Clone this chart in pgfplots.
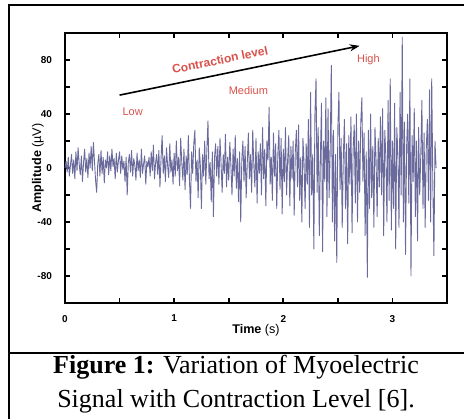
\documentclass[border=0pt]{standalone}
\usepackage{fontspec}
\setmainfont{Liberation Serif}
\setsansfont{Liberation Sans}
\usepackage{pgfplots}
\pgfplotsset{compat=1.18}
\usetikzlibrary{arrows.meta}
\definecolor{emgline}{HTML}{6A6A9C}
\definecolor{annot}{HTML}{D9514B}

\begin{document}
\begin{tikzpicture}
\begin{scope}[x=0.5pt,y=-0.5pt]
\useasboundingbox (0,0) rectangle (464,419);
\draw[line width=1pt] (9,419) -- (9,5) -- (464,5);
\draw[line width=1pt] (9,353) -- (464,353);
\node[anchor=base,font=\fontsize{13}{17}\selectfont] at (236,373) {\textbf{Figure 1:} Variation of Myoelectric};
\node[anchor=base,font=\fontsize{13}{17}\selectfont] at (236,407) {Signal with Contraction Level [6].};
\end{scope}
\begin{axis}[
  at={(32.5pt,-151.5pt)}, anchor=south west,
  scale only axis, width=191pt, height=135pt,
  xmin=0, xmax=3.5, ymin=-100, ymax=100,
  axis line style={line width=0.9pt},
  tick align=inside, xtick pos=both, ytick pos=both,
  major tick length=2.5pt,
  every tick/.style={line width=0.8pt,black},
  xtick={0,0.5,...,3.5}, xticklabels={0,,1,,2,,3,},
  ytick={-80,-60,...,80}, yticklabels={-80,,-40,,0,,40,,80},
  ticklabel style={font=\sffamily\bfseries\fontsize{5}{6}\selectfont},
  xticklabel style={yshift=-2.5pt},
  yticklabel style={xshift=-3pt},
  xlabel={\textbf{Time} (s)},
  ylabel={\textbf{Amplitude} (µV)},
  label style={font=\sffamily\fontsize{6.3}{7}\selectfont},
  xlabel style={at={(axis description cs:0.5,-0.1)},anchor=center},
  ylabel style={at={(axis description cs:-0.071,0.5)},anchor=center},
  clip=false,
]
\addplot[color=emgline, line width=0.45pt, line join=round] coordinates {
(0.00,0) (0.01,5) (0.02,-3) (0.03,8) (0.04,-6) (0.05,2) (0.06,10) (0.07,-4) (0.08,6) (0.09,-8)
(0.10,12) (0.11,-2) (0.12,15) (0.13,3) (0.14,-5) (0.15,9) (0.16,-10) (0.17,4) (0.18,14) (0.19,-3)
(0.20,7) (0.21,-7) (0.22,11) (0.23,0) (0.24,16) (0.25,-2) (0.26,19) (0.27,5) (0.28,-9) (0.29,-18)
(0.30,3) (0.31,10) (0.32,-6) (0.33,13) (0.34,-4) (0.35,8) (0.36,-11) (0.37,6) (0.38,0) (0.39,12)
(0.40,-5) (0.41,9) (0.42,-2) (0.43,14) (0.44,1) (0.45,7) (0.46,-8) (0.47,11) (0.48,-3) (0.49,6)
(0.50,12) (0.51,-4) (0.52,9) (0.53,-1) (0.54,5) (0.55,-10) (0.56,8) (0.57,-20) (0.58,4) (0.59,10)
(0.60,-3) (0.61,13) (0.62,-6) (0.63,7) (0.64,2) (0.65,-9) (0.66,11) (0.67,-2) (0.68,6) (0.69,-7)
(0.70,14) (0.71,-4) (0.72,3) (0.73,9) (0.74,-12) (0.75,5) (0.76,1) (0.77,8) (0.78,-6) (0.79,12)
(0.80,-2) (0.81,17) (0.82,-8) (0.83,4) (0.84,10) (0.85,-5) (0.86,13) (0.87,-14) (0.88,7) (0.89,24)
(0.90,-4) (0.91,9) (0.92,-10) (0.93,15) (0.94,2) (0.95,-7) (0.96,18) (0.97,-3) (0.98,6) (0.99,-12)
(1.00,11) (1.01,-6) (1.02,20) (1.03,-2) (1.04,8) (1.05,-13) (1.06,22) (1.07,4) (1.08,-9) (1.09,14)
(1.10,-16) (1.11,9) (1.12,-5) (1.13,24) (1.14,-8) (1.15,-30) (1.16,12) (1.17,-4) (1.18,18) (1.19,28)
(1.20,-10) (1.21,6) (1.22,-22) (1.23,15) (1.24,2) (1.25,-30) (1.26,10) (1.27,-6) (1.28,20) (1.29,-12)
(1.30,14) (1.31,35) (1.32,-8) (1.33,4) (1.34,-25) (1.35,12) (1.36,-36) (1.37,8) (1.38,18) (1.39,-6)
(1.40,16) (1.41,-12) (1.42,22) (1.43,3) (1.44,-18) (1.45,10) (1.46,-4) (1.47,25) (1.48,-14) (1.49,8)
(1.50,-9) (1.51,19) (1.52,2) (1.53,-20) (1.54,14) (1.55,-6) (1.56,24) (1.57,-15) (1.58,7) (1.59,-25)
(1.60,12) (1.61,-40) (1.62,6) (1.63,20) (1.64,-10) (1.65,16) (1.66,-22) (1.67,4) (1.68,26) (1.69,-8)
(1.70,10) (1.71,-18) (1.72,28) (1.73,2) (1.74,-14) (1.75,22) (1.76,-26) (1.77,12) (1.78,-4) (1.79,18)
(1.80,-20) (1.81,30) (1.82,-8) (1.83,14) (1.84,-28) (1.85,20) (1.86,6) (1.87,45) (1.88,-12) (1.89,8)
(1.90,-24) (1.91,26) (1.92,-6) (1.93,18) (1.94,-30) (1.95,10) (1.96,28) (1.97,-16) (1.98,22) (1.99,-34)
(2.00,14) (2.01,-10) (2.02,30) (2.03,-20) (2.04,6) (2.05,24) (2.06,-28) (2.07,16) (2.08,-8) (2.09,20)
(2.10,-35) (2.11,12) (2.12,28) (2.13,-14) (2.14,32) (2.15,-24) (2.16,8) (2.17,-40) (2.18,22) (2.19,4)
(2.20,-30) (2.21,18) (2.22,-12) (2.23,36) (2.24,-44) (2.25,56) (2.26,-20) (2.27,10) (2.28,-60) (2.29,40)
(2.30,66) (2.31,-18) (2.32,30) (2.33,-50) (2.34,8) (2.35,48) (2.36,-62) (2.37,20) (2.38,-10) (2.39,52)
(2.40,-36) (2.41,44) (2.42,-22) (2.43,14) (2.44,76) (2.45,-40) (2.46,28) (2.47,-54) (2.48,10) (2.49,-70)
(2.50,30) (2.51,56) (2.52,-16) (2.53,22) (2.54,-44) (2.55,8) (2.56,36) (2.57,-30) (2.58,18) (2.59,-56)
(2.60,24) (2.61,-12) (2.62,38) (2.63,-48) (2.64,14) (2.65,32) (2.66,-26) (2.67,40) (2.68,-40) (2.69,20)
(2.70,-18) (2.71,34) (2.72,52) (2.73,-10) (2.74,26) (2.75,-50) (2.76,12) (2.77,-81) (2.78,28) (2.79,-30)
(2.80,40) (2.81,-22) (2.82,16) (2.83,-44) (2.84,30) (2.85,6) (2.86,-36) (2.87,22) (2.88,-14) (2.89,38)
(2.90,-20) (2.91,44) (2.92,-50) (2.93,28) (2.94,8) (2.95,-40) (2.96,50) (2.97,-24) (2.98,66) (2.99,-46)
(3.00,20) (3.01,-30) (3.02,48) (3.03,-60) (3.04,30) (3.05,10) (3.06,-44) (3.07,56) (3.08,-20) (3.09,97)
(3.10,-40) (3.11,34) (3.12,-64) (3.13,16) (3.14,40) (3.15,-26) (3.16,66) (3.17,-80) (3.18,24) (3.19,-10)
(3.20,44) (3.21,-36) (3.22,20) (3.23,-54) (3.24,30) (3.25,-20) (3.26,10) (3.27,50) (3.28,-30) (3.29,26)
(3.30,-44) (3.31,14) (3.32,36) (3.33,-24) (3.34,58) (3.35,-40) (3.36,66) (3.37,-10) (3.38,-65) (3.39,20)
(3.40,0)
};
\draw[-{Stealth[length=5pt,width=3.5pt]}, line width=0.8pt] (axis cs:0.5,54) -- (axis cs:2.7,90.5);
\node[text=annot, font=\sffamily\bfseries\fontsize{6}{7}\selectfont, rotate=11.5] at (axis cs:1.42,80) {Contraction level};
\node[text=annot, font=\sffamily\fontsize{5.5}{6}\selectfont] at (axis cs:0.62,42) {Low};
\node[text=annot, font=\sffamily\fontsize{5.5}{6}\selectfont] at (axis cs:1.68,57.5) {Medium};
\node[text=annot, font=\sffamily\fontsize{5.5}{6}\selectfont] at (axis cs:2.78,80) {High};
\end{axis}
\end{tikzpicture}
\end{document}
